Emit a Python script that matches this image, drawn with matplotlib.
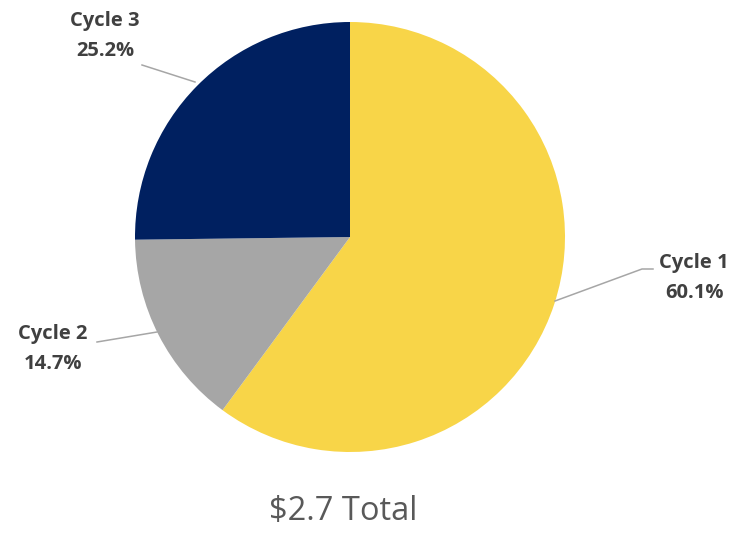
import matplotlib
matplotlib.use("Agg")
import matplotlib.pyplot as plt

categories = ["Cycle 1", "Cycle 2", "Cycle 3"]
shares = [60.1, 14.7, 25.2]
colors = ["#F8D548", "#A6A6A6", "#002060"]
total_label = "$2.7 Total"

W, H = 738, 534
fig = plt.figure(figsize=(W / 100, H / 100), dpi=100)
ax = fig.add_axes([0, 0, 1, 1])

cx, cy, r = 350, H - 237, 215
ax.pie(shares, colors=colors, startangle=90, counterclock=False,
       center=(cx, cy), radius=r, frame=True,
       wedgeprops=dict(linewidth=0))
ax.set_xlim(0, W)
ax.set_ylim(0, H)
ax.set_aspect("equal")
ax.axis("off")

font = "Open Sans"
lab_col = "#404040"
line_col = "#A6A6A6"

labels = {
    "Cycle 1": dict(xy=(694, 263), line=[(653, 269), (642, 269), (555, 301)]),
    "Cycle 2": dict(xy=(53, 334), line=[(97, 342), (157, 332)]),
    "Cycle 3": dict(xy=(105, 21), line=[(142, 65), (195, 82)]),
}
for cat, val in zip(categories, shares):
    info = labels[cat]
    x, y = info["xy"]
    ax.text(x, H - y, cat, ha="center", va="center", fontsize=14.5,
            fontweight="bold", color=lab_col, family=font)
    ax.text(x, H - y - 30, f"{val:.1f}%", ha="center", va="center",
            fontsize=14.5, fontweight="bold", color=lab_col, family=font)
    xs = [p[0] for p in info["line"]]
    ys = [H - p[1] for p in info["line"]]
    ax.plot(xs, ys, color=line_col, linewidth=1.1)

ax.text(343, H - 511, total_label, ha="center", va="center", fontsize=23.5,
        color="#595959", family=font)

fig.savefig("out.png", dpi=100)
